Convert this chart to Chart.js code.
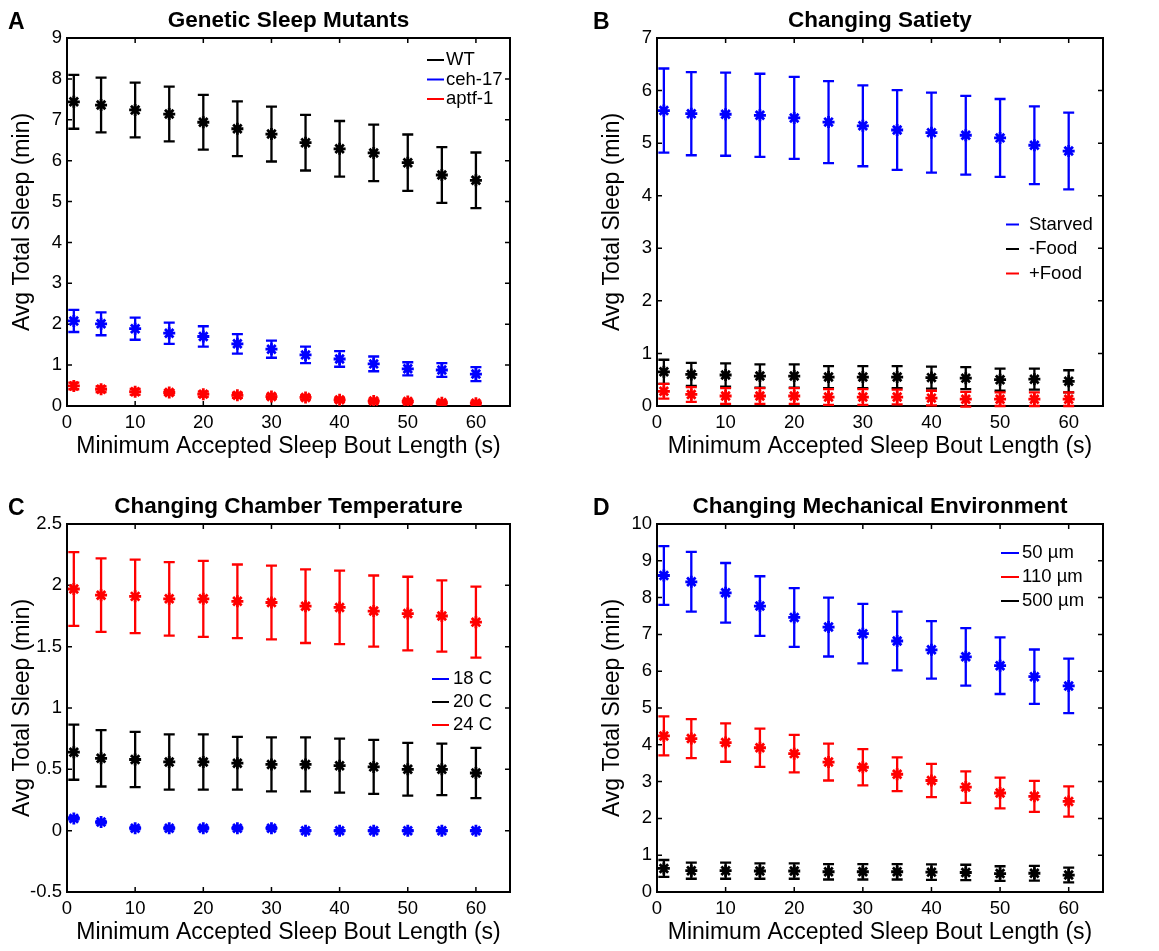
<!DOCTYPE html>
<html lang="en">
<head>
<meta charset="UTF-8">
<title>Minimum accepted sleep bout length</title>
<script src="https://cdn.jsdelivr.net/npm/chart.js@4.4.0/dist/chart.umd.min.js"></script>
<style>
  html, body { margin: 0; padding: 0; background: #fff; overflow: hidden; }
  canvas { position: absolute; }
</style>
</head>
<body>
<canvas id="chartA" width="522" height="465" style="left:0;top:0"></canvas>
<canvas id="chartB" width="525" height="465" style="left:590px;top:0"></canvas>
<canvas id="chartC" width="522" height="465" style="left:0;top:486px"></canvas>
<canvas id="chartD" width="525" height="465" style="left:590px;top:486px"></canvas>

<script>
// ---- data ----
const boutLength = [1, 5, 10, 15, 20, 25, 30, 35, 40, 45, 50, 55, 60];
const xTicks = [0, 10, 20, 30, 40, 50, 60];

// A: genetic sleep mutants
const wtMean = [7.44, 7.36, 7.24, 7.14, 6.94, 6.78, 6.65, 6.44, 6.29, 6.19, 5.95, 5.65, 5.52];
const wtErr = [0.66, 0.67, 0.67, 0.67, 0.67, 0.67, 0.67, 0.68, 0.68, 0.69, 0.69, 0.68, 0.68];
const ceh17Mean = [2.08, 2.01, 1.89, 1.78, 1.70, 1.52, 1.39, 1.25, 1.15, 1.03, 0.91, 0.88, 0.78];
const ceh17Err = [0.27, 0.28, 0.27, 0.26, 0.25, 0.24, 0.21, 0.20, 0.19, 0.18, 0.16, 0.17, 0.17];
const aptf1Mean = [0.49, 0.41, 0.35, 0.33, 0.29, 0.26, 0.23, 0.21, 0.15, 0.12, 0.11, 0.08, 0.07];
const aptf1Err = [0.08, 0.07, 0.07, 0.06, 0.06, 0.06, 0.05, 0.05, 0.05, 0.04, 0.04, 0.04, 0.04];
const yTicksA = [0, 1, 2, 3, 4, 5, 6, 7, 8, 9];

// B: changing satiety
const starvedMean = [5.62, 5.56, 5.55, 5.53, 5.48, 5.40, 5.33, 5.25, 5.20, 5.15, 5.10, 4.96, 4.85];
const starvedErr = [0.80, 0.79, 0.79, 0.79, 0.78, 0.78, 0.77, 0.76, 0.76, 0.75, 0.74, 0.74, 0.73];
const noFoodMean = [0.65, 0.60, 0.59, 0.57, 0.57, 0.55, 0.55, 0.55, 0.54, 0.53, 0.50, 0.51, 0.47];
const noFoodErr = [0.23, 0.22, 0.22, 0.22, 0.22, 0.21, 0.21, 0.21, 0.21, 0.21, 0.21, 0.20, 0.21];
const foodMean = [0.28, 0.22, 0.19, 0.19, 0.19, 0.17, 0.17, 0.17, 0.15, 0.13, 0.13, 0.13, 0.13];
const foodErr = [0.14, 0.14, 0.15, 0.15, 0.15, 0.15, 0.15, 0.14, 0.14, 0.14, 0.13, 0.13, 0.13];
const yTicksB = [0, 1, 2, 3, 4, 5, 6, 7];

// C: chamber temperature
const temp18Mean = [0.10, 0.07, 0.02, 0.02, 0.02, 0.02, 0.02, 0.00, 0.00, 0.00, 0.00, 0.00, 0.00];
const temp18Err = [0.01, 0.01, 0.01, 0.01, 0.01, 0.01, 0.01, 0.005, 0.005, 0.005, 0.005, 0.005, 0.005];
const temp20Mean = [0.64, 0.59, 0.58, 0.56, 0.56, 0.55, 0.54, 0.54, 0.53, 0.52, 0.50, 0.50, 0.47];
const temp20Err = [0.225, 0.23, 0.225, 0.225, 0.225, 0.215, 0.22, 0.22, 0.22, 0.22, 0.215, 0.21, 0.205];
const temp24Mean = [1.97, 1.92, 1.91, 1.89, 1.89, 1.87, 1.86, 1.83, 1.82, 1.79, 1.77, 1.75, 1.70];
const temp24Err = [0.30, 0.30, 0.30, 0.30, 0.31, 0.30, 0.30, 0.30, 0.30, 0.29, 0.30, 0.29, 0.29];
const yTicksC = [-0.5, 0, 0.5, 1, 1.5, 2, 2.5];

// D: mechanical environment
const um50Mean = [8.60, 8.43, 8.13, 7.77, 7.46, 7.20, 7.02, 6.82, 6.58, 6.39, 6.15, 5.85, 5.60];
const um50Err = [0.80, 0.81, 0.81, 0.81, 0.80, 0.80, 0.81, 0.80, 0.78, 0.78, 0.77, 0.74, 0.74];
const um110Mean = [4.24, 4.17, 4.06, 3.92, 3.76, 3.53, 3.39, 3.20, 3.03, 2.85, 2.69, 2.60, 2.46];
const um110Err = [0.53, 0.53, 0.52, 0.52, 0.51, 0.50, 0.49, 0.46, 0.45, 0.43, 0.42, 0.42, 0.41];
const um500Mean = [0.64, 0.58, 0.58, 0.57, 0.57, 0.55, 0.55, 0.55, 0.54, 0.53, 0.50, 0.51, 0.46];
const um500Err = [0.23, 0.22, 0.22, 0.21, 0.21, 0.21, 0.21, 0.21, 0.21, 0.21, 0.20, 0.20, 0.20];
const yTicksD = [0, 1, 2, 3, 4, 5, 6, 7, 8, 9, 10];

const BLUE = '#0000ff', RED = '#ff0000', BLACK = '#000000';

Chart.defaults.font.family = '"Liberation Sans", Arial, Helvetica, sans-serif';
Chart.defaults.color = '#000';

// matlab style box, inward ticks, error bars, legend, panel letter
const matlabPlugin = {
  id: 'matlab',
  beforeDatasetsDraw(chart) {
    const {ctx, chartArea: a, scales} = chart;
    ctx.save();
    ctx.strokeStyle = '#000';
    ctx.lineWidth = 2;
    ctx.strokeRect(a.left, a.top, a.right - a.left, a.bottom - a.top);
    ctx.lineWidth = 1.5;
    ctx.beginPath();
    scales.x.ticks.forEach(t => {
      const px = scales.x.getPixelForValue(t.value);
      ctx.moveTo(px, a.bottom); ctx.lineTo(px, a.bottom - 5);
      ctx.moveTo(px, a.top); ctx.lineTo(px, a.top + 5);
    });
    scales.y.ticks.forEach(t => {
      const py = scales.y.getPixelForValue(t.value);
      ctx.moveTo(a.left, py); ctx.lineTo(a.left + 5, py);
      ctx.moveTo(a.right, py); ctx.lineTo(a.right - 5, py);
    });
    ctx.stroke();
    ctx.restore();
  },
  beforeDatasetDraw(chart, args) {
    const ds = chart.data.datasets[args.index];
    if (!ds.err) return;
    const {ctx, scales: {x, y}} = chart;
    ctx.save();
    ctx.strokeStyle = ds.borderColor;
    ctx.lineWidth = 2.3;
    ctx.beginPath();
    ds.data.forEach((p, i) => {
      const px = x.getPixelForValue(p.x);
      const top = y.getPixelForValue(p.y + ds.err[i]);
      const bot = y.getPixelForValue(p.y - ds.err[i]);
      ctx.moveTo(px, top); ctx.lineTo(px, bot);
      ctx.moveTo(px - 5.5, top); ctx.lineTo(px + 5.5, top);
      ctx.moveTo(px - 5.5, bot); ctx.lineTo(px + 5.5, bot);
    });
    ctx.stroke();
    ctx.restore();
  },
  afterDatasetsDraw(chart, args, opts) {
    const {ctx, chartArea: a} = chart;
    const lg = opts.legend;
    ctx.save();
    ctx.font = '18.5px "Liberation Sans", Arial, sans-serif';
    ctx.textBaseline = 'middle';
    chart.data.datasets.forEach((ds, i) => {
      const x0 = a.right - lg.right;
      const yy = a.top + lg.top + i * lg.gap;
      ctx.strokeStyle = ds.borderColor;
      ctx.lineWidth = 2;
      ctx.beginPath();
      ctx.moveTo(x0, yy); ctx.lineTo(x0 + lg.len, yy);
      ctx.stroke();
      ctx.fillStyle = '#000';
      ctx.fillText(ds.label, x0 + lg.textGap, yy);
    });
    ctx.font = 'bold 23px "Liberation Sans", Arial, sans-serif';
    ctx.textBaseline = 'alphabetic';
    ctx.fillText(opts.letter, opts.letterX, 29);
    ctx.restore();
  }
};

function makePanel(id, title, letter, letterX, yMin, yMax, yTicks, series, legend) {
  return new Chart(document.getElementById(id), {
    type: 'scatter',
    data: {
      datasets: series.map((s, i) => ({
        label: s.label,
        data: boutLength.map((b, j) => ({x: b, y: s.mean[j]})),
        err: s.err,
        borderColor: s.color,
        backgroundColor: s.color,
        pointStyle: 'star',
        pointRadius: 6,
        pointBorderWidth: 2.8,
        showLine: false,
        order: -i
      }))
    },
    options: {
      responsive: false,
      animation: false,
      events: [],
      layout: {padding: {left: 0, right: 12, top: 0, bottom: 0}},
      plugins: {
        legend: {display: false},
        tooltip: {enabled: false},
        title: {
          display: true, text: title, fullSize: false, color: '#000',
          font: {size: 22.5, weight: 'bold'}, padding: {top: 7.3, bottom: 3.7}
        },
        matlab: {letter, letterX, legend}
      },
      scales: {
        x: {
          type: 'linear', min: 0, max: 65,
          afterBuildTicks: s => { s.ticks = xTicks.map(v => ({value: v})); },
          afterFit: s => { s.height = 59; },
          grid: {display: false, drawTicks: false},
          border: {display: false},
          ticks: {padding: 6, font: {size: 18.5}, color: '#000', callback: v => String(v)},
          title: {display: true, text: 'Minimum Accepted Sleep Bout Length (s)', color: '#000',
                  font: {size: 23}, padding: {top: 0, bottom: 4.7}}
        },
        y: {
          type: 'linear', min: yMin, max: yMax,
          afterBuildTicks: s => { s.ticks = yTicks.map(v => ({value: v})); },
          afterFit: s => { s.width = 67; },
          grid: {display: false, drawTicks: false},
          border: {display: false},
          ticks: {padding: 5, font: {size: 18.5}, color: '#000', callback: v => String(v)},
          title: {display: true, text: 'Avg Total Sleep (min)', color: '#000',
                  font: {size: 23}, padding: {top: 9, bottom: 0}}
        }
      }
    },
    plugins: [matlabPlugin]
  });
}

makePanel('chartA', 'Genetic Sleep Mutants', 'A', 8, 0, 9, yTicksA, [
  {label: 'WT', mean: wtMean, err: wtErr, color: BLACK},
  {label: 'ceh-17', mean: ceh17Mean, err: ceh17Err, color: BLUE},
  {label: 'aptf-1', mean: aptf1Mean, err: aptf1Err, color: RED}
], {right: 83, top: 22, gap: 19.5, len: 17, textGap: 19});

makePanel('chartB', 'Changing Satiety', 'B', 3, 0, 7, yTicksB, [
  {label: 'Starved', mean: starvedMean, err: starvedErr, color: BLUE},
  {label: '-Food', mean: noFoodMean, err: noFoodErr, color: BLACK},
  {label: '+Food', mean: foodMean, err: foodErr, color: RED}
], {right: 97, top: 186.5, gap: 24.5, len: 13, textGap: 23});

makePanel('chartC', 'Changing Chamber Temperature', 'C', 8, -0.5, 2.5, yTicksC, [
  {label: '18 C', mean: temp18Mean, err: temp18Err, color: BLUE},
  {label: '20 C', mean: temp20Mean, err: temp20Err, color: BLACK},
  {label: '24 C', mean: temp24Mean, err: temp24Err, color: RED}
], {right: 78, top: 155, gap: 23, len: 17, textGap: 21});

makePanel('chartD', 'Changing Mechanical Environment', 'D', 3, 0, 10, yTicksD, [
  {label: '50 µm', mean: um50Mean, err: um50Err, color: BLUE},
  {label: '110 µm', mean: um110Mean, err: um110Err, color: RED},
  {label: '500 µm', mean: um500Mean, err: um500Err, color: BLACK}
], {right: 102, top: 29, gap: 24, len: 18, textGap: 21});
</script>
</body>
</html>
